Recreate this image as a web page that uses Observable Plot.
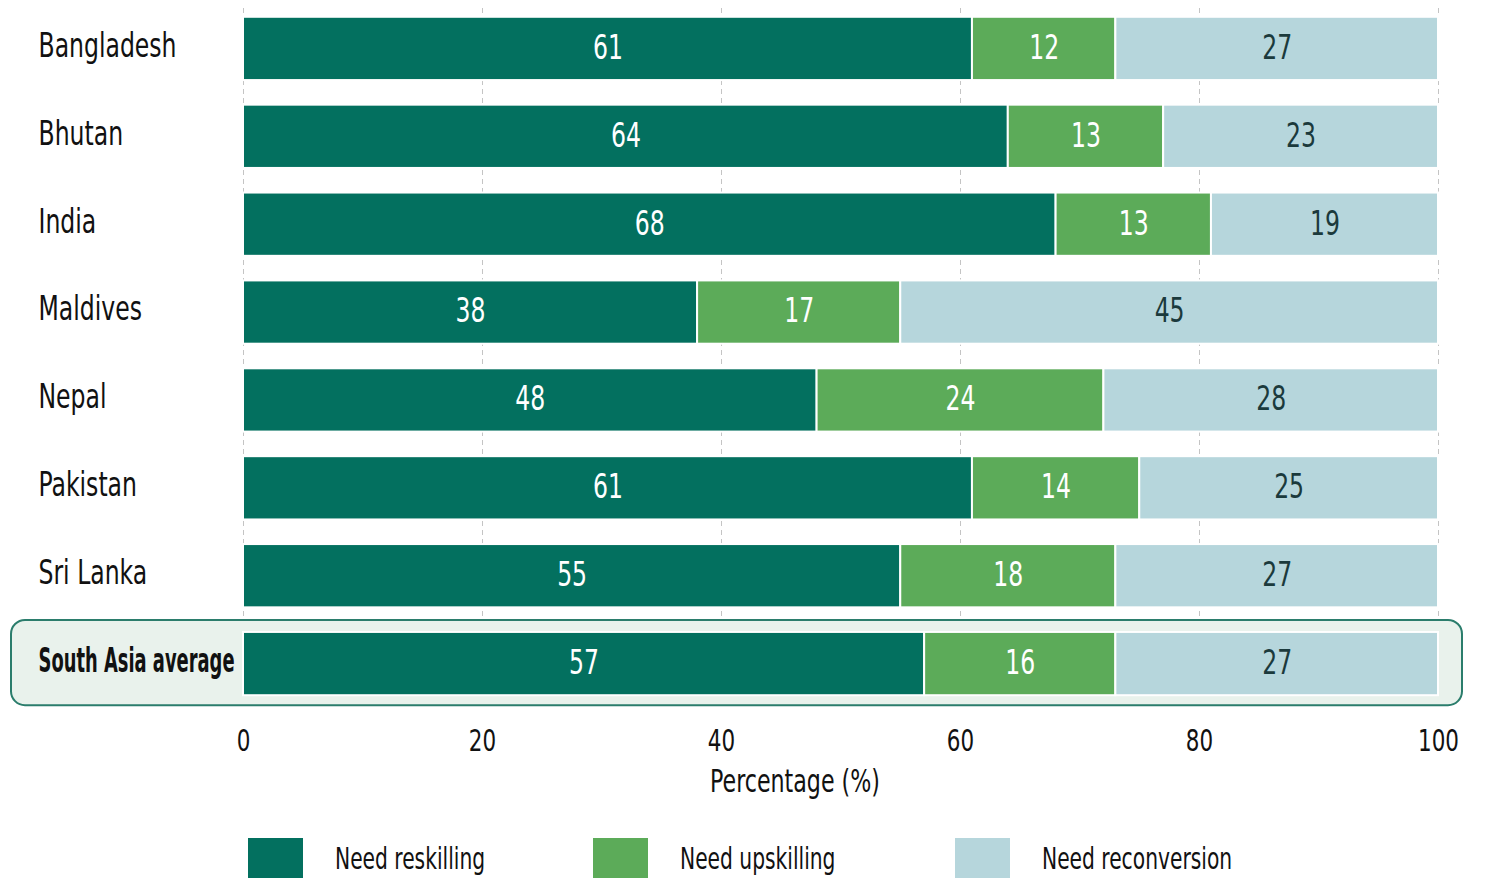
<!DOCTYPE html>
<html>
<head>
<meta charset="utf-8">
<script src="https://cdn.jsdelivr.net/npm/d3@7"></script>
<script src="https://cdn.jsdelivr.net/npm/@observablehq/plot@0.6"></script>
<style>
  body { margin: 0; background: #fff; font-family: 'DejaVu Sans Condensed', 'DejaVu Sans', sans-serif; }
  #legend { display: flex; align-items: center; padding-left: 248px; margin-top: 23px; font-size: 30px; color: #111; }
  #legend .item { display: flex; align-items: center; }
  #legend .sw { width: 55px; height: 40px; margin-right: 32px; flex: none; }
  #legend .lab { display: inline-block; transform: scaleX(0.75); transform-origin: left center; white-space: nowrap; }
</style>
</head>
<body>
<div id="chart"></div>
<div id="legend"></div>
<script>
const countries = ["Bangladesh", "Bhutan", "India", "Maldives", "Nepal", "Pakistan", "Sri Lanka", "South Asia average"];
const reskilling = [61, 64, 68, 38, 48, 61, 55, 57];
const upskilling = [12, 13, 13, 17, 24, 14, 18, 16];
const reconversion = [27, 23, 19, 45, 28, 25, 27, 27];
const types = ["Need reskilling", "Need upskilling", "Need reconversion"];
const colors = ["#03705f", "#5cab59", "#b6d6dc"];
const xTicks = [0, 20, 40, 60, 80, 100];
const highlight = "South Asia average";

const series = [reskilling, upskilling, reconversion];
const rows = [];
countries.forEach((c, i) => {
  let start = 0;
  series.forEach((s, j) => {
    const v = s[i];
    rows.push({country: c, type: types[j], value: v, x1: start, x2: start + v, mid: start + v / 2});
    start += v;
  });
});

const font = "'DejaVu Sans Condensed', 'DejaVu Sans', sans-serif";

const chart = Plot.plot({
  width: 1491,
  height: 815,
  marginLeft: 243,
  marginRight: 53,
  marginTop: 8,
  marginBottom: 111,
  x: {domain: [0, 100], ticks: xTicks},
  y: {domain: countries, paddingInner: 0.28, paddingOuter: 0.1, round: false, axis: null},
  color: {domain: types, range: colors},
  style: {fontFamily: font, background: "white", color: "#111"},
  marks: [
    Plot.gridX(xTicks, {stroke: "#c4c4c4", strokeOpacity: 1, strokeDasharray: "5,4"}),
    Plot.barX([highlight], {y: d => d, x1: 0, x2: 100, insetLeft: -232, insetRight: -24, insetTop: -12, insetBottom: -10, rx: 14, fill: "#e9f2ec", stroke: "#2b7d6c", strokeWidth: 2}),
    Plot.barX(rows, {x1: "x1", x2: "x2", y: "country", fill: "type", stroke: "white", strokeWidth: 2}),
    Plot.text(rows.filter(d => d.type !== "Need reconversion"), {x: "mid", y: "country", text: d => String(d.value), fill: "white", fontSize: 34, dy: -1}),
    Plot.text(rows.filter(d => d.type === "Need reconversion"), {x: "mid", y: "country", text: d => String(d.value), fill: "#1b3a3c", fontSize: 34, dy: -1}),
    Plot.axisX(xTicks, {tickSize: 0, tickPadding: 24, label: null, fontSize: 31, fill: "#111"}),
    Plot.text(["Percentage (%)"], {frameAnchor: "bottom", dy: 87, dx: -46, fontSize: 32, fill: "#111"}),
    Plot.text(countries.filter(c => c !== highlight), {y: d => d, frameAnchor: "left", textAnchor: "start", dx: -205, dy: -3, fontSize: 34, fill: "#111"}),
    Plot.text([highlight], {y: d => d, frameAnchor: "left", textAnchor: "start", dx: -205, dy: -3, fontSize: 34, fontWeight: "bold", fill: "#111"})
  ]
});
document.getElementById("chart").appendChild(chart);

// condense the text horizontally around each anchor point
chart.querySelectorAll("text").forEach(el => {
  const s = el.textContent === highlight ? 0.585 : 0.77;
  const x = parseFloat(el.getAttribute("x")) || 0;
  const dxa = el.getAttribute("dx");
  const dx = dxa && !/em/.test(dxa) ? parseFloat(dxa) || 0 : 0;
  const p = x + dx;
  const t = el.getAttribute("transform") || "";
  el.setAttribute("transform", `${t} translate(${p},0) scale(${s},1) translate(${-p},0)`.trim());
});

const legend = document.getElementById("legend");
const widths = [345, 362, null];
types.forEach((t, i) => {
  const item = document.createElement("div");
  item.className = "item";
  if (widths[i]) item.style.width = widths[i] + "px";
  const sw = document.createElement("div");
  sw.className = "sw";
  sw.style.background = colors[i];
  const label = document.createElement("span");
  label.className = "lab";
  label.textContent = t;
  item.appendChild(sw);
  item.appendChild(label);
  legend.appendChild(item);
});
</script>
</body>
</html>
